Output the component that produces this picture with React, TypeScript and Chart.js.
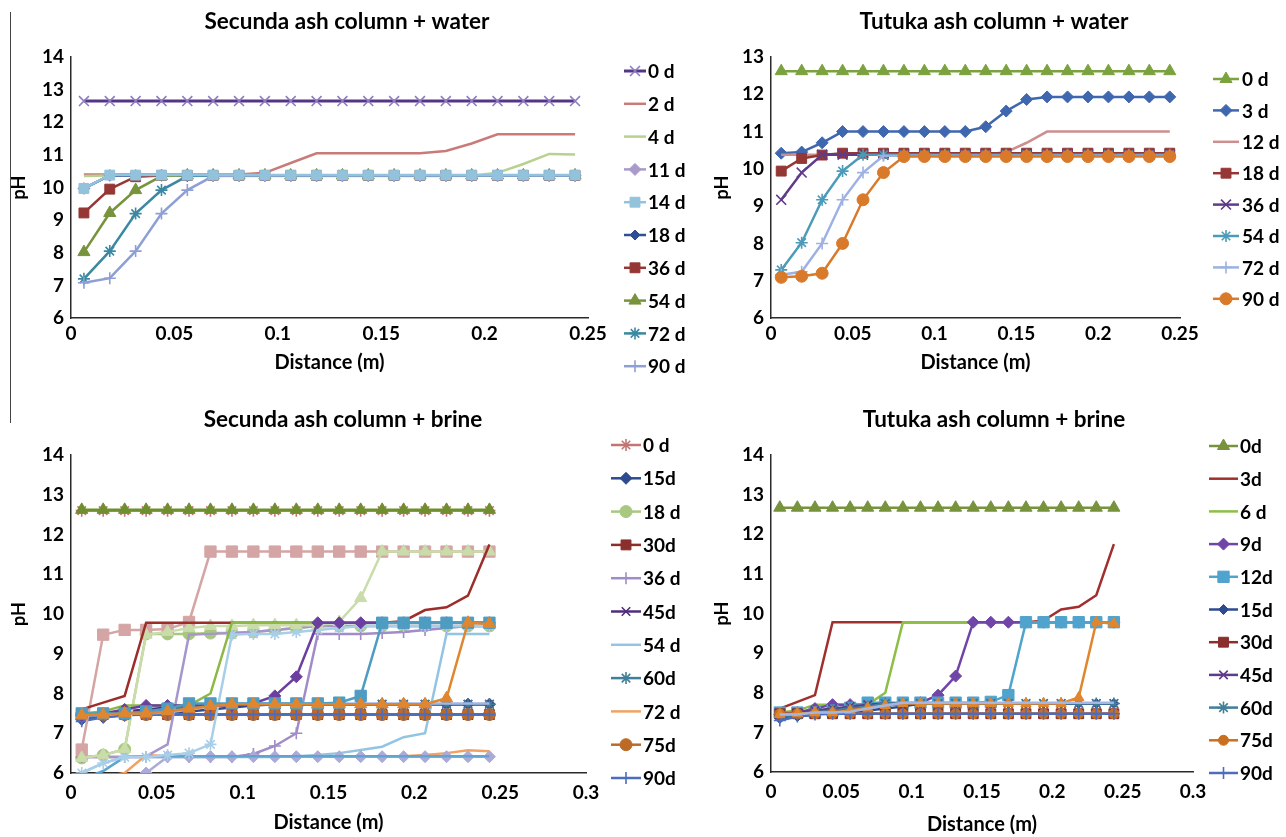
import React, { useEffect, useRef } from 'react';
import { Chart, registerables } from 'chart.js';
import { drawPoint } from 'chart.js/helpers';

Chart.register(...registerables);

const FONT = 'Lato, "Open Sans", "DejaVu Sans", sans-serif';

// ---------- shared axes ----------
const distances = [
  0.00625, 0.01875, 0.03125, 0.04375, 0.05625,
  0.06875, 0.08125, 0.09375, 0.10625, 0.11875,
  0.13125, 0.14375, 0.15625, 0.16875, 0.18125,
  0.19375, 0.20625, 0.21875, 0.23125, 0.24375,
];
const xTicksTo025 = ['0', '0.05', '0.1', '0.15', '0.2', '0.25'];
const xTicksTo03 = ['0', '0.05', '0.1', '0.15', '0.2', '0.25', '0.3'];
const yTicksTo14 = ['6', '7', '8', '9', '10', '11', '12', '13', '14'];
const yTicksTo13 = ['6', '7', '8', '9', '10', '11', '12', '13'];

// ---------- Secunda ash column + water ----------
const secundaWater0d = [
  12.65, 12.65, 12.65, 12.65, 12.65,
  12.65, 12.65, 12.65, 12.65, 12.65,
  12.65, 12.65, 12.65, 12.65, 12.65,
  12.65, 12.65, 12.65, 12.65, 12.65,
];
const secundaWater2d = [
  10.4, 10.4, 10.4, 10.4, 10.4,
  10.4, 10.4, 10.45, 10.75, 11.05,
  11.05, 11.05, 11.05, 11.05, 11.12,
  11.35, 11.63, 11.63, 11.63, 11.63,
];
const secundaWater4d = [
  10.35, 10.37, 10.37, 10.37, 10.37,
  10.35, 10.35, 10.35, 10.35, 10.35,
  10.35, 10.35, 10.35, 10.35, 10.35,
  10.36, 10.45, 10.72, 11.03, 11.01,
];
const secundaWater11d = [
  9.97, 10.37, 10.37, 10.37, 10.37,
  10.37, 10.37, 10.37, 10.37, 10.37,
  10.37, 10.37, 10.37, 10.37, 10.37,
  10.37, 10.37, 10.37, 10.37, 10.37,
];
const secundaWater14d = [
  9.97, 10.38, 10.38, 10.38, 10.38,
  10.38, 10.38, 10.38, 10.38, 10.38,
  10.38, 10.38, 10.38, 10.38, 10.38,
  10.38, 10.38, 10.38, 10.38, 10.38,
];
const secundaWater18d = [
  9.97, 10.37, 10.37, 10.37, 10.37,
  10.37, 10.37, 10.37, 10.37, 10.37,
  10.37, 10.37, 10.37, 10.37, 10.37,
  10.37, 10.37, 10.37, 10.37, 10.37,
];
const secundaWater36d = [
  9.22, 9.95, 10.33, 10.37, 10.37,
  10.37, 10.37, 10.37, 10.37, 10.37,
  10.37, 10.37, 10.37, 10.37, 10.37,
  10.37, 10.37, 10.37, 10.37, 10.37,
];
const secundaWater54d = [
  8.02, 9.22, 9.92, 10.35, 10.37,
  10.37, 10.37, 10.37, 10.37, 10.37,
  10.37, 10.37, 10.37, 10.37, 10.37,
  10.37, 10.37, 10.37, 10.37, 10.37,
];
const secundaWater72d = [
  7.2, 8.05, 9.2, 9.92, 10.35,
  10.37, 10.37, 10.37, 10.37, 10.37,
  10.37, 10.37, 10.37, 10.37, 10.37,
  10.37, 10.37, 10.37, 10.37, 10.37,
];
const secundaWater90d = [
  7.08, 7.22, 8.05, 9.2, 9.92,
  10.35, 10.37, 10.37, 10.37, 10.37,
  10.37, 10.37, 10.37, 10.37, 10.37,
  10.37, 10.37, 10.37, 10.37, 10.37,
];

// ---------- Tutuka ash column + water ----------
const tutukaWater0d = [
  12.62, 12.62, 12.62, 12.62, 12.62,
  12.62, 12.62, 12.62, 12.62, 12.62,
  12.62, 12.62, 12.62, 12.62, 12.62,
  12.62, 12.62, 12.62, 12.62, 12.62,
];
const tutukaWater3d = [
  10.42, 10.45, 10.7, 11.0, 11.0,
  11.0, 11.0, 11.0, 11.0, 11.0,
  11.13, 11.55, 11.86, 11.93, 11.93,
  11.93, 11.93, 11.93, 11.93, 11.93,
];
const tutukaWater12d = [
  10.38, 10.38, 10.38, 10.38, 10.38,
  10.38, 10.38, 10.38, 10.38, 10.38,
  10.38, 10.45, 10.7, 11.0, 11.0,
  11.0, 11.0, 11.0, 11.0, 11.0,
];
const tutukaWater18d = [
  9.94, 10.28, 10.37, 10.42, 10.42,
  10.42, 10.42, 10.42, 10.42, 10.42,
  10.42, 10.42, 10.42, 10.42, 10.42,
  10.42, 10.42, 10.42, 10.42, 10.42,
];
const tutukaWater36d = [
  9.17, 9.9, 10.38, 10.38, 10.38,
  10.38, 10.38, 10.38, 10.38, 10.38,
  10.38, 10.38, 10.38, 10.38, 10.38,
  10.38, 10.38, 10.38, 10.38, 10.38,
];
const tutukaWater54d = [
  7.29, 8.02, 9.17, 9.94, 10.38,
  10.38, 10.38, 10.38, 10.38, 10.38,
  10.38, 10.38, 10.38, 10.38, 10.38,
  10.38, 10.38, 10.38, 10.38, 10.38,
];
const tutukaWater72d = [
  7.16, 7.24, 8.0, 9.17, 9.9,
  10.35, 10.35, 10.35, 10.35, 10.35,
  10.35, 10.35, 10.35, 10.35, 10.35,
  10.35, 10.35, 10.35, 10.35, 10.35,
];
const tutukaWater90d = [
  7.09, 7.12, 7.2, 8.0, 9.17,
  9.9, 10.33, 10.33, 10.33, 10.33,
  10.33, 10.33, 10.33, 10.33, 10.33,
  10.33, 10.33, 10.33, 10.33, 10.33,
];

// ---------- Tutuka ash column + brine ----------
const tutukaBrine0d = [
  12.67, 12.67, 12.67, 12.67, 12.67,
  12.67, 12.67, 12.67, 12.67, 12.67,
  12.67, 12.67, 12.67, 12.67, 12.67,
  12.67, 12.67, 12.67, 12.67, 12.67,
];
const tutukaBrine3d = [
  7.6, 7.77, 7.94, 9.78, 9.78,
  9.78, 9.78, 9.78, 9.78, 9.78,
  9.78, 9.78, 9.78, 9.78, 9.78,
  9.82, 10.1, 10.17, 10.46, 11.75,
];
const tutukaBrine6d = [
  7.5, 7.55, 7.7, 7.7, 7.7,
  7.7, 8.0, 9.78, 9.78, 9.78,
  9.78, 9.78, 9.78, 9.78, 9.78,
  9.78, 9.78, 9.78, 9.78, 9.78,
];
const tutukaBrine9d = [
  7.45, 7.5, 7.6, 7.7, 7.7,
  7.7, 7.7, 7.7, 7.75, 7.94,
  8.42, 9.78, 9.78, 9.78, 9.78,
  9.78, 9.78, 9.78, 9.78, 9.78,
];
const tutukaBrine12d = [
  7.5, 7.5, 7.5, 7.55, 7.62,
  7.75, 7.75, 7.75, 7.75, 7.75,
  7.75, 7.75, 7.77, 7.94, 9.78,
  9.78, 9.78, 9.78, 9.78, 9.78,
];
const tutukaBrine15d = [
  7.35, 7.4, 7.45, 7.5, 7.5,
  7.55, 7.6, 7.65, 7.73, 7.73,
  7.73, 7.73, 7.73, 7.73, 7.73,
  7.73, 7.73, 7.73, 7.73, 7.73,
];
const tutukaBrine30d = [
  7.47, 7.47, 7.47, 7.47, 7.47,
  7.47, 7.47, 7.47, 7.47, 7.47,
  7.47, 7.47, 7.47, 7.47, 7.47,
  7.47, 7.47, 7.47, 7.47, 7.47,
];
const tutukaBrine45d = [
  7.45, 7.5, 7.55, 7.6, 7.65,
  7.7, 7.73, 7.73, 7.73, 7.73,
  7.73, 7.73, 7.73, 7.73, 7.73,
  7.73, 7.73, 7.73, 7.73, 7.73,
];
const tutukaBrine60d = [
  7.4, 7.45, 7.5, 7.55, 7.6,
  7.65, 7.73, 7.73, 7.73, 7.73,
  7.73, 7.73, 7.73, 7.73, 7.73,
  7.73, 7.73, 7.73, 7.73, 7.73,
];
const tutukaBrine75d = [
  7.47, 7.47, 7.47, 7.47, 7.47,
  7.47, 7.47, 7.47, 7.47, 7.47,
  7.47, 7.47, 7.47, 7.47, 7.47,
  7.47, 7.47, 7.47, 7.47, 7.47,
];
const tutukaBrine90d = [
  7.3, 7.4, 7.45, 7.47, 7.47,
  7.47, 7.47, 7.47, 7.47, 7.47,
  7.47, 7.47, 7.47, 7.47, 7.47,
  7.47, 7.47, 7.47, 7.47, 7.47,
];
const tutukaBrineOrangeRise = [
  7.45, 7.47, 7.5, 7.5, 7.55,
  7.62, 7.68, 7.73, 7.73, 7.73,
  7.73, 7.73, 7.73, 7.73, 7.73,
  7.73, 7.73, 7.88, 9.78, 9.75,
];
const tutukaBrinePeriwinkle = [
  7.45, 7.45, 7.5, 7.5, 7.52,
  7.6, 7.68, 7.75, 7.75, 7.75,
  7.75, 7.75, 7.75, 7.75, 7.75,
  7.75, 7.75, 7.75, 7.75, 7.75,
];

// ---------- Secunda ash column + brine ----------
const secundaBrine0d = [
  12.6, 12.6, 12.6, 12.6, 12.6,
  12.6, 12.6, 12.6, 12.6, 12.6,
  12.6, 12.6, 12.6, 12.6, 12.6,
  12.6, 12.6, 12.6, 12.6, 12.6,
];
const secundaBrine15d = [
  7.35, 7.4, 7.45, 7.5, 7.5,
  7.55, 7.6, 7.65, 7.7, 7.73,
  7.73, 7.73, 7.73, 7.73, 7.73,
  7.73, 7.73, 7.73, 7.73, 7.73,
];
const secundaBrine18d = [
  6.38, 6.45, 6.6, 9.5, 9.5,
  9.5, 9.52, 9.52, 9.55, 9.6,
  9.65, 9.7, 9.7, 9.7, 9.7,
  9.7, 9.7, 9.7, 9.7, 9.7,
];
const secundaBrine30d = [
  7.47, 7.47, 7.47, 7.47, 7.47,
  7.47, 7.47, 7.47, 7.47, 7.47,
  7.47, 7.47, 7.47, 7.47, 7.47,
  7.47, 7.47, 7.47, 7.47, 7.47,
];
const secundaBrine36d = [
  6.4, 6.4, 6.4, 6.4, 6.4,
  6.4, 6.4, 6.4, 6.48, 6.68,
  7.0, 9.5, 9.5, 9.5, 9.52,
  9.55, 9.6, 9.65, 9.7, 9.7,
];
const secundaBrine45d = [
  7.45, 7.5, 7.55, 7.6, 7.65,
  7.7, 7.73, 7.73, 7.73, 7.73,
  7.73, 7.73, 7.73, 7.73, 7.73,
  7.73, 7.73, 7.73, 7.73, 7.73,
];
const secundaBrine54d = [
  6.0, 6.25, 6.4, 6.4, 6.4,
  6.4, 6.4, 6.4, 6.4, 6.4,
  6.42, 6.45, 6.5, 6.58, 6.66,
  6.9, 7.0, 9.5, 9.5, 9.5,
];
const secundaBrine60d = [
  7.4, 7.45, 7.5, 7.55, 7.6,
  7.65, 7.73, 7.73, 7.73, 7.73,
  7.73, 7.73, 7.73, 7.73, 7.73,
  7.73, 7.73, 7.73, 7.73, 7.73,
];
const secundaBrine72d = [
  5.8, 5.9, 6.0, 6.45, 6.42,
  6.42, 6.42, 6.42, 6.42, 6.42,
  6.42, 6.42, 6.42, 6.42, 6.42,
  6.42, 6.45, 6.5, 6.57, 6.55,
];
const secundaBrine75d = [
  7.47, 7.47, 7.47, 7.47, 7.47,
  7.47, 7.47, 7.47, 7.47, 7.47,
  7.47, 7.47, 7.47, 7.47, 7.47,
  7.47, 7.47, 7.47, 7.47, 7.47,
];
const secundaBrine90d = [
  7.3, 7.4, 7.45, 7.47, 7.47,
  7.47, 7.47, 7.47, 7.47, 7.47,
  7.47, 7.47, 7.47, 7.47, 7.47,
  7.47, 7.47, 7.47, 7.47, 7.47,
];
const secundaBrineGreenTop = [
  12.62, 12.62, 12.62, 12.62, 12.62,
  12.62, 12.62, 12.62, 12.62, 12.62,
  12.62, 12.62, 12.62, 12.62, 12.62,
  12.62, 12.62, 12.62, 12.62, 12.62,
];
const secundaBrineRose = [
  6.59, 9.48, 9.6, 9.6, 9.62,
  9.8, 11.57, 11.57, 11.57, 11.57,
  11.57, 11.57, 11.57, 11.57, 11.57,
  11.57, 11.57, 11.57, 11.57, 11.57,
];
const secundaBrinePaleGreen = [
  6.38, 6.45, 6.6, 9.48, 9.55,
  9.65, 9.7, 9.7, 9.72, 9.72,
  9.72, 9.72, 9.8, 10.4, 11.57,
  11.57, 11.57, 11.57, 11.57, 11.57,
];
const secundaBrineLavender = [
  null, null, null, 6.0, 6.41,
  6.41, 6.41, 6.41, 6.41, 6.41,
  6.41, 6.41, 6.41, 6.41, 6.41,
  6.41, 6.41, 6.41, 6.41, 6.41,
];
const secundaBrineLilac = [
  6.4, 6.4, 6.4, 6.42, 6.72,
  9.48, 9.5, 9.52, 9.55, 9.6,
  9.65, 9.7, 9.7, 9.7, 9.7,
  9.7, 9.7, 9.7, 9.7, 9.7,
];
const secundaBrinePaleBlue = [
  6.0, 6.25, 6.4, 6.4, 6.45,
  6.5, 6.72, 9.48, 9.5, 9.5,
  9.55, 9.6, 9.65, 9.7, 9.7,
  9.7, 9.7, 9.7, 9.7, 9.7,
];
const secundaBrineTeal = [
  5.85, 6.05, 6.4, 6.42, 6.42,
  6.42, 6.42, 6.42, 6.42, 6.42,
  6.42, 6.42, 6.42, 6.42, 6.42,
  6.42, 6.42, 6.42, 6.42, 6.42,
];

// ---------- series tables ----------
type Series = {
  label: string;
  values: (number | null)[];
  color: string;
  marker: string | false;
  radius?: number;
  markerColor?: string;
  legend?: boolean;
  onTop?: boolean;
  width?: number;
};

const secundaWaterSeries: Series[] = [
  { label: '0 d', values: secundaWater0d, color: '#553585', marker: 'crossRot', radius: 7, markerColor: '#8C7CC0', width: 3 },
  { label: '2 d', values: secundaWater2d, color: '#C97B79', marker: false },
  { label: '4 d', values: secundaWater4d, color: '#B8D18E', marker: false },
  { label: '11 d', values: secundaWater11d, color: '#A99ACB', marker: 'rectRot', radius: 6 },
  { label: '14 d', values: secundaWater14d, color: '#93C3DC', marker: 'rect', radius: 7, onTop: true },
  { label: '18 d', values: secundaWater18d, color: '#2F4F94', marker: 'rectRot', radius: 5 },
  { label: '36 d', values: secundaWater36d, color: '#953735', marker: 'rect', radius: 7 },
  { label: '54 d', values: secundaWater54d, color: '#77933C', marker: 'triangle', radius: 7 },
  { label: '72 d', values: secundaWater72d, color: '#3B88A3', marker: 'star', radius: 6 },
  { label: '90 d', values: secundaWater90d, color: '#8E9FD6', marker: 'cross', radius: 6 },
];

const tutukaWaterSeries: Series[] = [
  { label: '0 d', values: tutukaWater0d, color: '#7BA23F', marker: 'triangle', radius: 7 },
  { label: '3 d', values: tutukaWater3d, color: '#3F67B0', marker: 'rectRot', radius: 6 },
  { label: '12 d', values: tutukaWater12d, color: '#CD8F8D', marker: false },
  { label: '18 d', values: tutukaWater18d, color: '#953735', marker: 'rect', radius: 7 },
  { label: '36 d', values: tutukaWater36d, color: '#5F3B8A', marker: 'crossRot', radius: 7 },
  { label: '54 d', values: tutukaWater54d, color: '#4B9BB8', marker: 'star', radius: 6 },
  { label: '72 d', values: tutukaWater72d, color: '#9DB2E2', marker: 'cross', radius: 6 },
  { label: '90 d', values: tutukaWater90d, color: '#D97A2B', marker: 'circle', radius: 6 },
];

const secundaBrineSeries: Series[] = [
  { label: '0 d', values: secundaBrine0d, color: '#C37573', marker: 'star', radius: 6 },
  { label: '15d', values: secundaBrine15d, color: '#2E4B90', marker: 'rectRot', radius: 6 },
  { label: '18 d', values: secundaBrine18d, color: '#A8C880', marker: 'circle', radius: 6 },
  { label: '30d', values: secundaBrine30d, color: '#8A2F2C', marker: 'rect', radius: 7 },
  { label: '36 d', values: secundaBrine36d, color: '#A08CC8', marker: 'cross', radius: 6 },
  { label: '45d', values: secundaBrine45d, color: '#4F2E7C', marker: 'crossRot', radius: 6 },
  { label: '54 d', values: secundaBrine54d, color: '#93C4E2', marker: false },
  { label: '60d', values: secundaBrine60d, color: '#3F7F98', marker: 'star', radius: 6 },
  { label: '72 d', values: secundaBrine72d, color: '#F0A264', marker: false },
  { label: '75d', values: secundaBrine75d, color: '#BD6A26', marker: 'circle', radius: 6 },
  { label: '90d', values: secundaBrine90d, color: '#4C6DBD', marker: 'cross', radius: 6 },
  { label: 'lavender', values: secundaBrineLavender, color: '#ABAAD8', marker: 'rectRot', radius: 6, legend: false },
  { label: 'teal', values: secundaBrineTeal, color: '#5EA6CF', marker: false, legend: false },
  { label: 'lilac', values: secundaBrineLilac, color: '#A796CC', marker: false, legend: false },
  { label: 'pale blue', values: secundaBrinePaleBlue, color: '#A9CFE8', marker: 'star', radius: 6, legend: false },
  { label: 'rose', values: secundaBrineRose, color: '#D4A5A4', marker: 'rect', radius: 8, legend: false },
  { label: 'pale green', values: secundaBrinePaleGreen, color: '#C9DCAA', marker: 'triangle', radius: 7, legend: false },
  { label: 'periwinkle', values: tutukaBrinePeriwinkle, color: '#A6B6E2', marker: false, legend: false },
  { label: 'green', values: secundaBrineGreenTop, color: '#6F8F2F', marker: 'triangle', radius: 7, legend: false },
  { label: 'red', values: tutukaBrine3d, color: '#9B2D2A', marker: false, legend: false },
  { label: 'green line', values: tutukaBrine6d, color: '#8DB845', marker: false, legend: false },
  { label: 'purple', values: tutukaBrine9d, color: '#6B3FA0', marker: 'rectRot', radius: 6, legend: false },
  { label: 'blue', values: tutukaBrine12d, color: '#4E9CC2', marker: 'rect', radius: 8, legend: false },
  { label: 'orange', values: tutukaBrineOrangeRise, color: '#E0862E', marker: 'triangle', radius: 7, legend: false },
];

const tutukaBrineSeries: Series[] = [
  { label: '0d', values: tutukaBrine0d, color: '#77933C', marker: 'triangle', radius: 7 },
  { label: '3d', values: tutukaBrine3d, color: '#A0302E', marker: false },
  { label: '6 d', values: tutukaBrine6d, color: '#8DBE45', marker: false },
  { label: '9d', values: tutukaBrine9d, color: '#7045A8', marker: 'rectRot', radius: 6 },
  { label: '12d', values: tutukaBrine12d, color: '#4FA3CC', marker: 'rect', radius: 8 },
  { label: '15d', values: tutukaBrine15d, color: '#2E4B90', marker: 'rectRot', radius: 5 },
  { label: '30d', values: tutukaBrine30d, color: '#8A2F2C', marker: 'rect', radius: 7 },
  { label: '45d', values: tutukaBrine45d, color: '#5F3B8A', marker: 'crossRot', radius: 6 },
  { label: '60d', values: tutukaBrine60d, color: '#3F7F98', marker: 'star', radius: 6 },
  { label: '75d', values: tutukaBrine75d, color: '#C8701F', marker: 'circle', radius: 5 },
  { label: '90d', values: tutukaBrine90d, color: '#4C6DBD', marker: 'cross', radius: 6 },
  { label: 'orange', values: tutukaBrineOrangeRise, color: '#E0862E', marker: 'triangle', radius: 6, legend: false },
  { label: 'periwinkle', values: tutukaBrinePeriwinkle, color: '#A6B6E2', marker: false, legend: false },
];

// ---------- panel layout ----------
type Panel = {
  left: number; top: number; width: number; height: number;
  title: string; series: Series[];
  yMax: number; yTicks: string[]; xMax: number; xTicks: string[];
  yW: number; rightW: number; xH: number;
  titlePad: { top: number; bottom: number };
  xTickPad: number; xTitlePad: number; yTickPad: number; yTitlePad: number;
  legend: { x: number; len: number; gap: number; y0: number; step: number };
};

const TITLE_SIZE = 22.5;
const TICK_SIZE = 19;
const AXIS_TITLE_SIZE = 20;
const PH_SIZE = 18;
const LEGEND_SIZE = 19;

const panels: Panel[] = [
  {
    left: 0, top: 0, width: 694, height: 400,
    title: 'Secunda ash column + water', series: secundaWaterSeries,
    yMax: 14, yTicks: yTicksTo14, xMax: 0.25, xTicks: xTicksTo025,
    yW: 71, rightW: 106, xH: 82, titlePad: { top: 8, bottom: 22 },
    xTickPad: 4, xTitlePad: 25, yTickPad: 7, yTitlePad: 8,
    legend: { x: 624, len: 22, gap: 2, y0: 71, step: 32.8 },
  },
  {
    left: 700, top: 0, width: 588, height: 400,
    title: 'Tutuka ash column + water', series: tutukaWaterSeries,
    yMax: 13, yTicks: yTicksTo13, xMax: 0.25, xTicks: xTicksTo025,
    yW: 71, rightW: 108, xH: 82, titlePad: { top: 8, bottom: 22 },
    xTickPad: 4, xTitlePad: 25, yTickPad: 7, yTitlePad: 11,
    legend: { x: 513, len: 26, gap: 3, y0: 79, step: 31.4 },
  },
  {
    left: 0, top: 400, width: 686, height: 437,
    title: 'Secunda ash column + brine', series: secundaBrineSeries,
    yMax: 14, yTicks: yTicksTo14, xMax: 0.3, xTicks: xTicksTo03,
    yW: 71, rightW: 100, xH: 64, titlePad: { top: 6, bottom: 22 },
    xTickPad: 8, xTitlePad: 2, yTickPad: 7, yTitlePad: 8,
    legend: { x: 611, len: 30, gap: 2, y0: 45, step: 33.3 },
  },
  {
    left: 700, top: 400, width: 588, height: 437,
    title: 'Tutuka ash column + brine', series: tutukaBrineSeries,
    yMax: 14, yTicks: yTicksTo14, xMax: 0.3, xTicks: xTicksTo03,
    yW: 71, rightW: 95, xH: 65, titlePad: { top: 6, bottom: 22 },
    xTickPad: 8, xTitlePad: 0, yTickPad: 7, yTitlePad: 11,
    legend: { x: 509, len: 29, gap: 2, y0: 46, step: 32.7 },
  },
];

const STROKE_ONLY = ['cross', 'crossRot', 'star', 'line', 'dash'];

function toDataset(s: Series, i: number, n: number) {
  const mc = s.markerColor || s.color;
  const strokeOnly = s.marker && STROKE_ONLY.includes(s.marker as string);
  return {
    label: s.label,
    data: distances.map((x, k) => ({ x, y: s.values[k] })),
    borderColor: s.color,
    backgroundColor: mc,
    borderWidth: s.width ?? 2.5,
    pointStyle: s.marker || 'circle',
    pointRadius: s.marker ? s.radius ?? 5 : 0,
    pointHoverRadius: 0,
    pointBorderWidth: strokeOnly ? 1.6 : 1,
    pointBackgroundColor: mc,
    pointBorderColor: mc,
    tension: 0,
    spanGaps: false,
    order: s.onTop ? -1 : n - i,
    inLegend: s.legend !== false,
  };
}

function makeLegendPlugin(lg: Panel['legend']) {
  return {
    id: 'seriesLegend',
    afterDraw(chart: any) {
      const ctx = chart.ctx as CanvasRenderingContext2D;
      ctx.save();
      let k = 0;
      chart.data.datasets.forEach((ds: any) => {
        if (!ds.inLegend) return;
        const y = lg.y0 + k * lg.step;
        k += 1;
        ctx.strokeStyle = ds.borderColor;
        ctx.lineWidth = ds.borderWidth;
        ctx.beginPath();
        ctx.moveTo(lg.x, y);
        ctx.lineTo(lg.x + lg.len, y);
        ctx.stroke();
        if (ds.pointRadius > 0) {
          ctx.fillStyle = ds.pointBackgroundColor;
          ctx.strokeStyle = ds.pointBorderColor;
          ctx.lineWidth = ds.pointBorderWidth;
          drawPoint(ctx, { pointStyle: ds.pointStyle, radius: ds.pointRadius, borderWidth: ds.pointBorderWidth, rotation: 0 } as any, lg.x + lg.len / 2, y);
        }
        ctx.fillStyle = '#000';
        ctx.font = `bold ${LEGEND_SIZE}px ${FONT}`;
        ctx.textBaseline = 'middle';
        ctx.textAlign = 'left';
        ctx.fillText(ds.label, lg.x + lg.len + lg.gap, y + 1);
      });
      ctx.restore();
    },
  };
}

function ChartPanel({ p }: { p: Panel }) {
  const ref = useRef<HTMLCanvasElement>(null);
  useEffect(() => {
    const tickFont = { family: FONT, size: TICK_SIZE, weight: 'bold' as const };
    const chart = new Chart(ref.current as HTMLCanvasElement, {
      type: 'line',
      data: { datasets: p.series.map((s, i) => toDataset(s, i, p.series.length)) as any },
      options: {
        responsive: false,
        animation: false,
        devicePixelRatio: 1,
        layout: { padding: 0 },
        events: [],
        plugins: {
          legend: { display: false },
          tooltip: { enabled: false },
          title: {
            display: true,
            text: p.title,
            color: '#000',
            font: { family: FONT, size: TITLE_SIZE, weight: 'bold' },
            padding: p.titlePad,
          },
        },
        scales: {
          x: {
            type: 'linear',
            min: 0,
            max: p.xMax,
            grid: { display: false, drawTicks: false },
            border: { display: true, color: '#2a2a2a', width: 1.5 },
            ticks: {
              stepSize: 0.05,
              autoSkip: false,
              maxRotation: 0,
              padding: p.xTickPad,
              color: '#000',
              font: tickFont,
              callback: (_v: any, i: number) => p.xTicks[i],
            },
            title: {
              display: true,
              text: 'Distance (m)',
              color: '#000',
              font: { family: FONT, size: AXIS_TITLE_SIZE, weight: 'bold' },
              padding: { top: 0, bottom: p.xTitlePad },
            },
            afterFit: (s: any) => { s.height = p.xH; },
          },
          y: {
            type: 'linear',
            position: 'left',
            min: 6,
            max: p.yMax,
            grid: { display: false, drawTicks: false },
            border: { display: true, color: '#2a2a2a', width: 1.5 },
            ticks: {
              stepSize: 1,
              padding: p.yTickPad,
              color: '#000',
              font: tickFont,
              callback: (_v: any, i: number) => p.yTicks[i],
            },
            title: {
              display: true,
              text: 'pH',
              color: '#000',
              font: { family: FONT, size: PH_SIZE, weight: 'bold' },
              padding: { top: p.yTitlePad, bottom: 0 },
            },
            afterFit: (s: any) => { s.width = p.yW; },
          },
          yRight: {
            type: 'linear',
            position: 'right',
            display: true,
            grid: { display: false, drawTicks: false },
            border: { display: false },
            ticks: { display: false },
            afterFit: (s: any) => { s.width = p.rightW; },
          },
        },
      } as any,
      plugins: [makeLegendPlugin(p.legend)],
    });
    return () => chart.destroy();
  }, [p]);
  return (
    <canvas
      ref={ref}
      width={p.width}
      height={p.height}
      style={{ position: 'absolute', left: p.left, top: p.top }}
    />
  );
}

export default function App() {
  useEffect(() => {
    document.body.style.margin = '0';
    document.body.style.overflow = 'hidden';
    document.body.style.background = '#fff';
  }, []);
  return (
    <div style={{ position: 'relative', width: 1286, height: 837, overflow: 'hidden', background: '#fff' }}>
      <div style={{ position: 'absolute', left: 10, top: 12, width: 1, height: 411, background: '#444' }} />
      {panels.map((p) => (
        <ChartPanel key={p.title} p={p} />
      ))}
    </div>
  );
}
